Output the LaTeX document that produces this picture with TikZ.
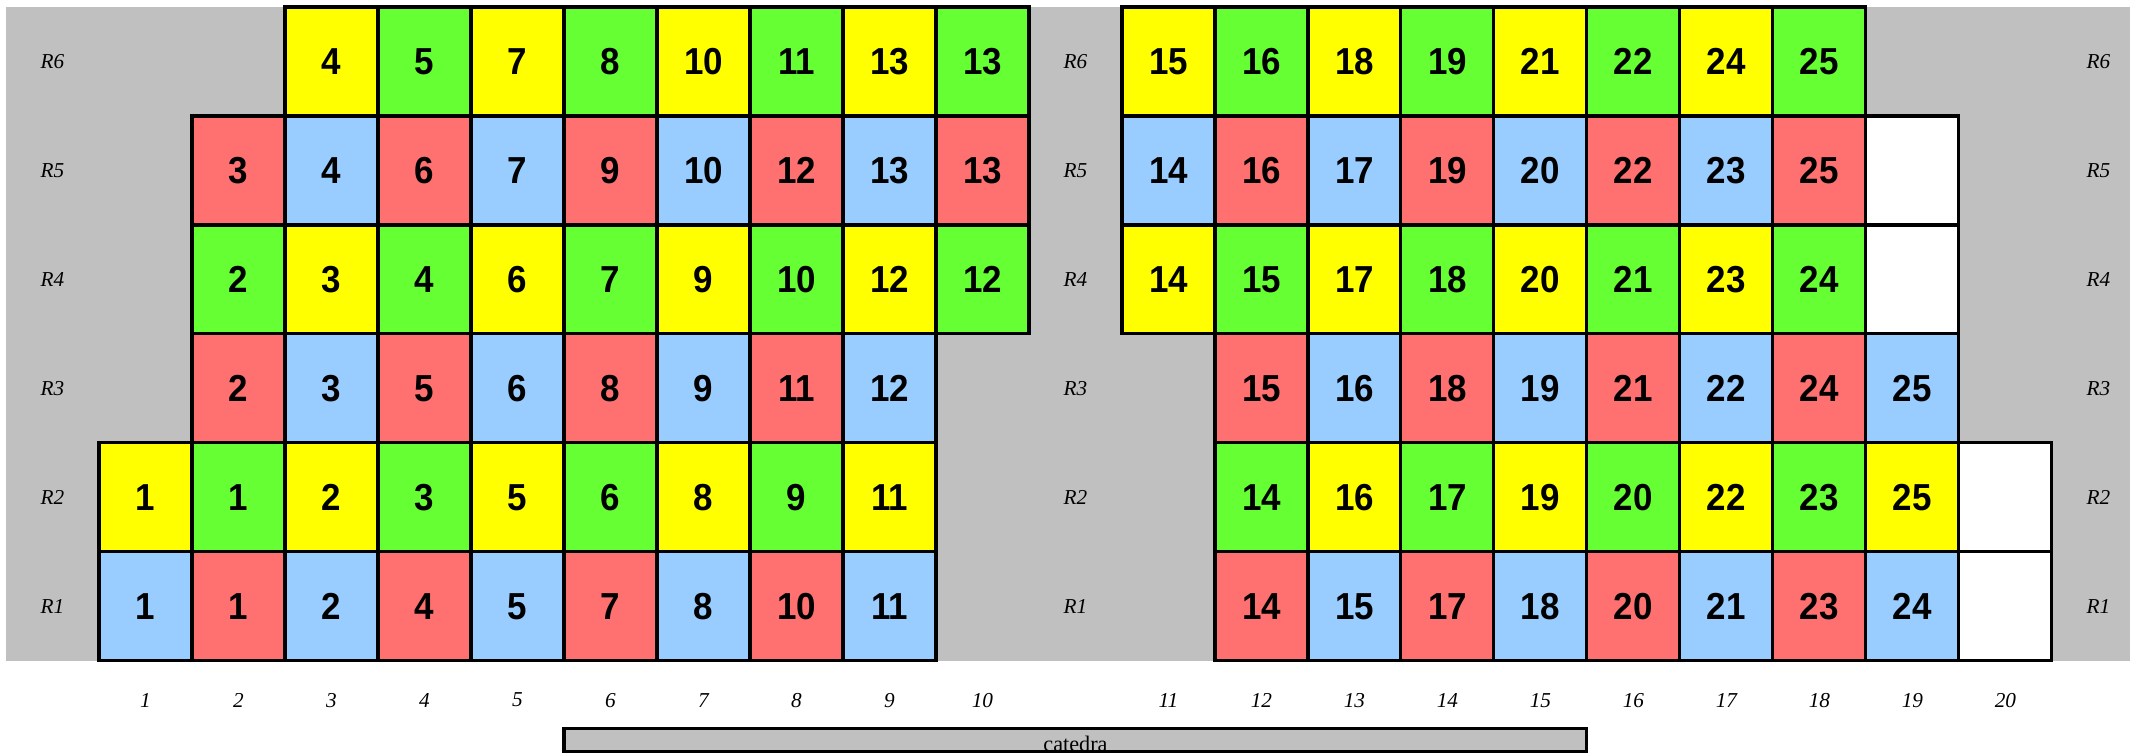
\documentclass[tikz,border=0pt]{standalone}
\usepackage{fontspec}
\setmainfont{Liberation Serif}
\setsansfont{Liberation Sans}
\newfontfamily\seatfont{Liberation Sans}[FakeStretch=0.93]
\usetikzlibrary{positioning}

% seat colours: 2*(row odd)+(column odd)
\definecolor{seat0}{HTML}{66FF33}
\definecolor{seat1}{HTML}{FFFF00}
\definecolor{seat2}{HTML}{FF7070}
\definecolor{seat3}{HTML}{99CCFF}
\definecolor{floorgray}{HTML}{C0C0C0}

\begin{document}
\begin{tikzpicture}[
  x=1cm, y=1.172cm,
  seat/.style={draw, line width=0.95pt, anchor=south west, inner sep=0pt,
    outer sep=0pt, minimum width=1cm, minimum height=1.172cm,
    font=\seatfont\bfseries\fontsize{11.5}{12}\selectfont},
  emptyseat/.style={seat, fill=white},
  rowlbl/.style={font=\itshape\fontsize{6.5}{7}\selectfont, inner sep=0pt},
  collbl/.style={font=\itshape\fontsize{6.5}{7}\selectfont, inner sep=0pt},
  desk/.style={line width=0.95pt}
]
\clip (-0.065,-0.844) rectangle (22.84,6.064);

% ── The room floor ─────────────────────────────────────────────────────────
\fill[floorgray] (0,0) rectangle (23,6);

% ── Seats (column/number per row; aisle after column 10) ──────────────────
\foreach \r/\seats in {
  1/{1/1,2/1,3/2,4/4,5/5,6/7,7/8,8/10,9/11,12/14,13/15,14/17,15/18,16/20,17/21,18/23,19/24},
  2/{1/1,2/1,3/2,4/3,5/5,6/6,7/8,8/9,9/11,12/14,13/16,14/17,15/19,16/20,17/22,18/23,19/25},
  3/{2/2,3/3,4/5,5/6,6/8,7/9,8/11,9/12,12/15,13/16,14/18,15/19,16/21,17/22,18/24,19/25},
  4/{2/2,3/3,4/4,5/6,6/7,7/9,8/10,9/12,10/12,11/14,12/15,13/17,14/18,15/20,16/21,17/23,18/24},
  5/{2/3,3/4,4/6,5/7,6/9,7/10,8/12,9/13,10/13,11/14,12/16,13/17,14/19,15/20,16/22,17/23,18/25},
  6/{3/4,4/5,5/7,6/8,7/10,8/11,9/13,10/13,11/15,12/16,13/18,14/19,15/21,16/22,17/24,18/25}}
{
  \foreach \c/\n in \seats {
    \pgfmathtruncatemacro\k{2*mod(\r,2)+mod(\c,2)}
    \pgfmathtruncatemacro\p{\c>10 ? \c+1 : \c}
    \node[seat, fill=seat\k] (s-\r-\c) at (\p,\r-1) {\n};
  }
}

% free places
\foreach \c/\r in {19/4,19/5,20/1,20/2} {
  \node[emptyseat] (s-\r-\c) at (\c+1,\r-1) {};
}

% ── Row and column labels ─────────────────────────────────────────────────
\foreach \r in {1,...,6} {
  \node[rowlbl] (rl-\r) at (0.5,\r-0.5) {R\r};
  \node[rowlbl] (ra-\r) at (11.5,\r-0.5) {R\r};
  \node[rowlbl] (rr-\r) at (22.5,\r-0.5) {R\r};
}
\foreach \c in {1,...,20} {
  \pgfmathtruncatemacro\p{\c>10 ? \c+1 : \c}
  \node[collbl] (cl-\c) at (\p+0.5,-0.36) {\c};
}

% ── The desk (border drawn over its label) ────────────────────────────────
\fill[floorgray] (6,-0.624) rectangle (17,-0.83);
\node[anchor=base, font=\fontsize{6.8}{7}\selectfont, inner sep=0pt]
  (desk) at (11.5,-0.828) {catedra};
\draw[desk] (6,-0.624) rectangle (17,-0.83);

\end{tikzpicture}
\end{document}
